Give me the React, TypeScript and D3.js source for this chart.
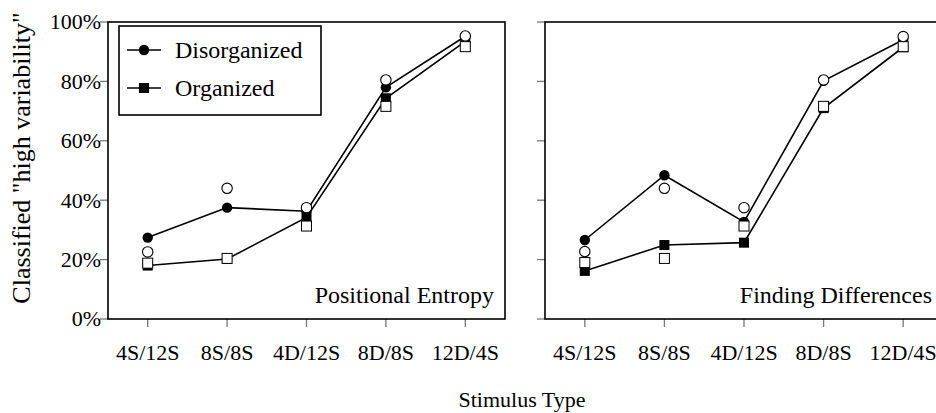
import React from "react";
import * as d3 from "d3";

const categories = ["4S/12S", "8S/8S", "4D/12S", "8D/8S", "12D/4S"];
const yTicks = [0, 20, 40, 60, 80, 100];

// Positional Entropy panel
const peDisorganized = [27.4, 37.5, 36.3, 78.0, 95.2];
const peOrganized = [18.0, 20.2, 34.2, 74.3, 93.5];
const peDisorganizedOpen = [22.6, 44.0, 37.5, 80.5, 95.3];
const peOrganizedOpen = [18.8, 20.4, 31.3, 71.6, 91.7];

// Finding Differences panel
const fdDisorganized = [26.6, 48.4, 32.7, 80.2, 94.0];
const fdOrganized = [16.2, 24.9, 25.7, 71.0, 91.5];
const fdDisorganizedOpen = [22.7, 44.0, 37.5, 80.5, 95.1];
const fdOrganizedOpen = [19.0, 20.4, 31.3, 71.6, 91.7];

const panels = [
  {
    title: "Positional Entropy",
    x0: 108,
    x1: 505,
    disorg: peDisorganized,
    org: peOrganized,
    disorgOpen: peDisorganizedOpen,
    orgOpen: peOrganizedOpen,
    labels: true,
  },
  {
    title: "Finding Differences",
    x0: 545,
    x1: 943,
    disorg: fdDisorganized,
    org: fdOrganized,
    disorgOpen: fdDisorganizedOpen,
    orgOpen: fdOrganizedOpen,
    labels: false,
  },
];

const FONT = "'Liberation Serif', 'Times New Roman', serif";
const TOP = 22;
const BOTTOM = 319;

function T(props: any) {
  const { size, children, ...rest } = props;
  return (
    <text {...rest} fill="#000" style={{ fontFamily: FONT, fontSize: size + "px" }}>
      {children}
    </text>
  );
}

export default function App() {
  const y = d3.scaleLinear().domain([0, 100]).range([BOTTOM, TOP]);
  const R = 5.2;
  const S = 10;

  return (
    <svg
      width={936}
      height={413}
      style={{ position: "absolute", left: 0, top: 0, background: "#fff", fontFamily: FONT }}
    >
      <rect x={0} y={0} width={936} height={413} fill="#fff" />
      <T transform={`translate(30,158) rotate(-90)`} textAnchor="middle" size={26}>
        Classified "high variability"
      </T>
      <T x={522} y={407} textAnchor="middle" size={22}>
        Stimulus Type
      </T>
      {panels.map((p, pi) => {
        const x = d3
          .scalePoint<string>()
          .domain(categories)
          .range([p.x0, p.x1])
          .padding(0.5);
        const line = d3
          .line<number>()
          .x((_, i) => x(categories[i]) as number)
          .y((v) => y(v));
        return (
          <g key={pi}>
            {yTicks.map((t) => (
              <g key={t}>
                <line
                  x1={p.x0 - 8}
                  x2={p.x0}
                  y1={y(t)}
                  y2={y(t)}
                  stroke="#777"
                  strokeWidth={1.3}
                />
                {p.labels && (
                  <T x={p.x0 - 7} y={y(t)} dy="0.34em" textAnchor="end" size={22}>
                    {t}%
                  </T>
                )}
              </g>
            ))}
            {categories.map((c) => (
              <g key={c}>
                <line
                  x1={x(c)}
                  x2={x(c)}
                  y1={BOTTOM}
                  y2={BOTTOM + 8}
                  stroke="#777"
                  strokeWidth={1.3}
                />
                <T x={x(c)} y={360} textAnchor="middle" size={22}>
                  {c}
                </T>
              </g>
            ))}
            <rect
              x={p.x0}
              y={TOP}
              width={p.x1 - p.x0}
              height={BOTTOM - TOP}
              fill="none"
              stroke="#000"
              strokeWidth={1.6}
            />
            <path d={line(p.disorg) || ""} fill="none" stroke="#000" strokeWidth={1.6} />
            <path d={line(p.org) || ""} fill="none" stroke="#000" strokeWidth={1.6} />
            {p.disorg.map((v, i) => (
              <circle key={"dc" + i} cx={x(categories[i])} cy={y(v)} r={R} fill="#000" />
            ))}
            {p.org.map((v, i) => (
              <rect
                key={"os" + i}
                x={(x(categories[i]) as number) - S / 2}
                y={y(v) - S / 2}
                width={S}
                height={S}
                fill="#000"
              />
            ))}
            {p.orgOpen.map((v, i) => (
              <rect
                key={"oo" + i}
                x={(x(categories[i]) as number) - S / 2}
                y={y(v) - S / 2}
                width={S}
                height={S}
                fill="#fff"
                stroke="#000"
                strokeWidth={1}
              />
            ))}
            {p.disorgOpen.map((v, i) => (
              <circle
                key={"do" + i}
                cx={x(categories[i])}
                cy={y(v)}
                r={R}
                fill="#fff"
                stroke="#000"
                strokeWidth={1.1}
              />
            ))}
            <T x={p.x1 - 11} y={303} textAnchor="end" size={24}>
              {p.title}
            </T>
          </g>
        );
      })}
      <g>
        <rect x={119} y={26} width={202} height={89} fill="#fff" stroke="#000" strokeWidth={1.6} />
        <line x1={127} x2={161} y1={50} y2={50} stroke="#000" strokeWidth={1.6} />
        <circle cx={144} cy={50} r={R} fill="#000" />
        <T x={175} y={58} size={24}>
          Disorganized
        </T>
        <line x1={127} x2={161} y1={88} y2={88} stroke="#000" strokeWidth={1.6} />
        <rect x={144 - S / 2} y={88 - S / 2} width={S} height={S} fill="#000" />
        <T x={175} y={96} size={24}>
          Organized
        </T>
      </g>
    </svg>
  );
}
